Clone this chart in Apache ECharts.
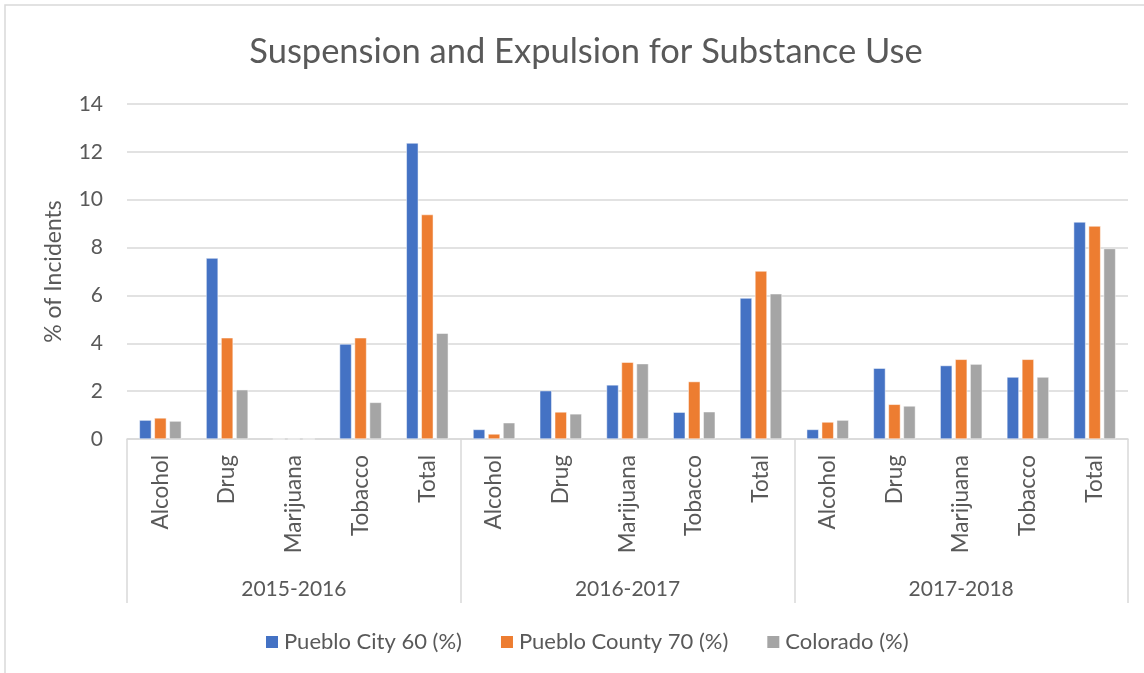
<!DOCTYPE html>
<html>
<head>
<meta charset="utf-8">
<script src="https://cdn.jsdelivr.net/npm/echarts@6/dist/echarts.min.js"></script>
<style>html,body{margin:0;padding:0;background:#fff}#c{width:1144px;height:673px}</style>
</head>
<body>
<div id="c"></div>
<script>
var categories = ['Alcohol','Drug','Marijuana','Tobacco','Total','Alcohol','Drug','Marijuana','Tobacco','Total','Alcohol','Drug','Marijuana','Tobacco','Total'];
var groups = ['2015-2016','2016-2017','2017-2018'];
var seriesNames = ['Pueblo City 60 (%)','Pueblo County 70 (%)','Colorado (%)'];
var puebloCity = [0.79,7.56,0,3.97,12.37, 0.40,2.02,2.26,1.12,5.89, 0.40,2.96,3.07,2.59,9.07];
var puebloCounty = [0.88,4.23,0,4.23,9.38, 0.21,1.13,3.21,2.40,7.02, 0.71,1.45,3.33,3.33,8.90];
var colorado = [0.75,2.06,0,1.53,4.42, 0.68,1.05,3.15,1.14,6.07, 0.79,1.38,3.13,2.59,7.96];
var yTicks = {min:0, max:14, interval:2};

var FONT = 'Lato';
var TXT = '#595959';
var GRID = '#d9d9d9';
var colors = ['#4472C4','#ED7D31','#A5A5A5'];
var values = [puebloCity, puebloCounty, colorado];

var chart = echarts.init(document.getElementById('c'), null, {renderer:'canvas'});
chart.setOption({
  animation:false,
  color: colors,
  title:{
    text:'Suspension and Expulsion for Substance Use',
    left:581, top:29, textAlign:'center',
    textStyle:{fontFamily:FONT, fontSize:34.5, fontWeight:'normal', color:TXT}
  },
  legend:{
    data: seriesNames,
    left:259, top:626,
    itemWidth:14, itemHeight:14, itemGap:37,
    icon:'rect',
    textStyle:{fontFamily:FONT, fontSize:22, color:TXT}
  },
  grid:{left:127, right:16, top:104, bottom:234},
  xAxis:[{
    type:'category', data:categories,
    axisLine:{show:true, lineStyle:{color:GRID, width:1.5}},
    axisTick:{show:false},
    axisLabel:{rotate:90, interval:0, margin:16, fontFamily:FONT, fontSize:22.5, color:TXT}
  },{
    type:'category', data:groups, position:'bottom', offset:0,
    axisLine:{show:false},
    axisTick:{show:true, length:164, interval:0, lineStyle:{color:GRID, width:1.5}},
    axisLabel:{interval:0, margin:140, fontFamily:FONT, fontSize:21, color:TXT}
  }],
  yAxis:{
    type:'value', min:yTicks.min, max:yTicks.max, interval:yTicks.interval,
    name:'% of Incidents', nameLocation:'middle', nameRotate:90, nameGap:62,
    nameTextStyle:{fontFamily:FONT, fontSize:23, color:TXT},
    axisLine:{show:false}, axisTick:{show:false},
    axisLabel:{margin:24, fontFamily:FONT, fontSize:21, color:TXT},
    splitLine:{lineStyle:{color:GRID, width:1.5}}
  },
  graphic:[{type:'rect', shape:{x:5, y:5, width:1300, height:800}, style:{fill:'none', stroke:GRID, lineWidth:1.5}, silent:true, z:-1}],
  series: seriesNames.map(function(n,i){
    return {name:n, type:'bar', xAxisIndex:0, data:values[i], barWidth:12, barGap:'25%',
      itemStyle:{color:colors[i], borderColor:'#ffffff', borderWidth:0.5}};
  })
});
</script>
</body>
</html>
